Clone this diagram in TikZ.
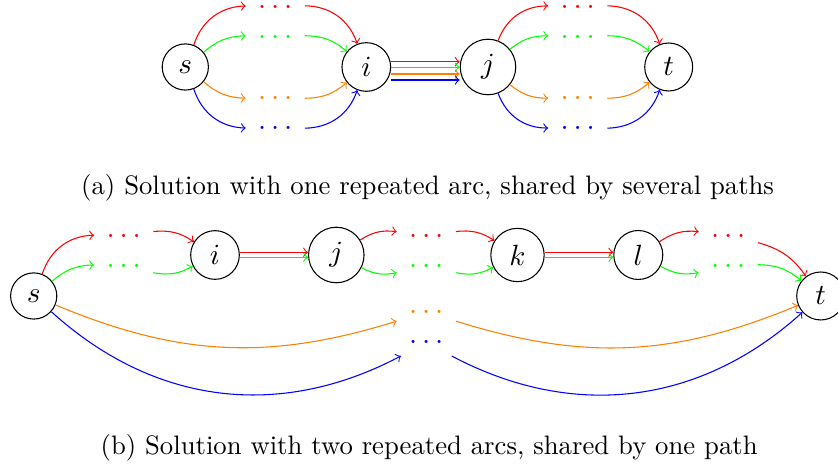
\documentclass[tikz,border=0pt]{standalone}
\usetikzlibrary{calc}
\tikzset{
  vtx/.style={circle, draw, inner sep=3.65pt, font=\fontsize{10.95}{13.6}\selectfont},
  dotsnode/.style={rectangle, inner sep=0pt, outer sep=0pt, minimum width=22.17pt, minimum height=10.26pt, font=\fontsize{10.95}{13.6}\selectfont},
  dotsflat/.style={dotsnode, minimum height=0pt},
  capnode/.style={anchor=west, inner sep=0pt},
  arr/.style={->},
}
\begin{document}
\begin{tikzpicture}[x=0.3745pt,y=0.3745pt]
\useasboundingbox (0,0) rectangle (838,472);
% ---------- (a) ----------
\node[vtx] (sA) at (185.3,405) {$s$};
\node[vtx] (iA) at (366.3,405) {$i$};
\node[vtx] (jA) at (488,405) {$j$};
\node[vtx] (tA) at (668.7,405) {$t$};
\node[dotsflat,text=red]    (rA1) at (275.3,465.5) {$\ldots$};
\node[dotsflat,text=green]  (gA1) at (275.3,435.5) {$\ldots$};
\node[dotsflat,text=orange] (oA1) at (275.3,374.5) {$\ldots$};
\node[dotsflat,text=blue]   (bA1) at (275.3,344.5) {$\ldots$};
\node[dotsflat,text=red]    (rA2) at (577.8,465.5) {$\ldots$};
\node[dotsflat,text=green]  (gA2) at (577.8,435.5) {$\ldots$};
\node[dotsflat,text=orange] (oA2) at (577.8,374.5) {$\ldots$};
\node[dotsflat,text=blue]   (bA2) at (577.8,344.5) {$\ldots$};
\draw[arr,red]    (sA) to[bend left=35]  (rA1);
\draw[arr,green]  (sA) to[bend left=20]  (gA1);
\draw[arr,orange] (sA) to[bend right=20] (oA1);
\draw[arr,blue]   (sA) to[bend right=35] (bA1);
\draw[arr,red]    (rA1) to[bend left=35]  (iA);
\draw[arr,green]  (gA1) to[bend left=20]  (iA);
\draw[arr,orange] (oA1) to[bend right=20] (iA);
\draw[arr,blue]   (bA1) to[bend right=35] (iA);
\draw[arr,red]    ($(iA.east)+(0,5.3)$)  -- ($(jA.west)+(0,5.3)$);
\draw[arr,green]  ($(iA.east)+(0,-0.3)$) -- ($(jA.west)+(0,-0.3)$);
\draw[arr,orange] ($(iA.east)+(0,-7)$)   -- ($(jA.west)+(0,-7)$);
\draw[arr,blue]   ($(iA.east)+(0,-13)$)  -- ($(jA.west)+(0,-13)$);
\draw[arr,red]    (jA) to[bend left=35]  (rA2);
\draw[arr,green]  (jA) to[bend left=20]  (gA2);
\draw[arr,orange] (jA) to[bend right=20] (oA2);
\draw[arr,blue]   (jA) to[bend right=35] (bA2);
\draw[arr,red]    (rA2) to[bend left=35]  (tA);
\draw[arr,green]  (gA2) to[bend left=20]  (tA);
\draw[arr,orange] (oA2) to[bend right=20] (tA);
\draw[arr,blue]   (bA2) to[bend right=35] (tA);
\node[capnode] (capA) at (80.7,284.5) {(a) Solution with one repeated arc, shared by several paths};
% ---------- (b) ----------
\node[vtx] (sB) at (33.7,176) {$s$};
\node[vtx] (iB) at (215,217) {$i$};
\node[vtx] (jB) at (336.3,217) {$j$};
\node[vtx] (kB) at (517.5,217) {$k$};
\node[vtx] (lB) at (638.3,217) {$l$};
\node[vtx] (tB) at (820.7,176) {$t$};
\node[dotsnode,text=red]    (rB1) at (123.7,236.2) {$\ldots$};
\node[dotsnode,text=green]  (gB1) at (123.7,206.3) {$\ldots$};
\node[dotsnode,text=red]    (rB2) at (426.3,236.2) {$\ldots$};
\node[dotsnode,text=green]  (gB2) at (426.3,206.3) {$\ldots$};
\node[dotsnode,text=orange] (oB2) at (426.3,160.3) {$\ldots$};
\node[dotsnode,text=blue]   (bB2) at (426.3,129.7) {$\ldots$};
\node[dotsnode,text=red]    (rB3) at (728.3,236.2) {$\ldots$};
\node[dotsnode,text=green]  (gB3) at (728.3,206.3) {$\ldots$};
\draw[arr,red]    (sB) to[bend left=35] (rB1);
\draw[arr,green]  (sB) to[bend left=20] (gB1);
\draw[arr,red]    (rB1) to[bend left=20]  (iB);
\draw[arr,green]  (gB1) to[bend right=20] (iB);
\draw[arr,red]    ($(iB.east)+(0,2.7)$)  -- ($(jB.west)+(0,2.7)$);
\draw[arr,green]  ($(iB.east)+(0,-2.3)$) -- ($(jB.west)+(0,-2.3)$);
\draw[arr,red]    (jB) to[bend left=20]  (rB2);
\draw[arr,green]  (jB) to[bend right=20] (gB2);
\draw[arr,red]    (rB2) to[bend left=20]  (kB);
\draw[arr,green]  (gB2) to[bend right=20] (kB);
\draw[arr,red]    ($(kB.east)+(0,2.7)$)  -- ($(lB.west)+(0,2.7)$);
\draw[arr,green]  ($(kB.east)+(0,-2.3)$) -- ($(lB.west)+(0,-2.3)$);
\draw[arr,red]    (lB) to[bend left=20]  (rB3);
\draw[arr,green]  (lB) to[bend right=20] (gB3);
\draw[arr,red]    (rB3) to[bend left=20] (tB);
\draw[arr,green]  (gB3) to[bend left=20] (tB);
\draw[arr,orange] (sB) to[bend right=20] (oB2);
\draw[arr,blue]   (sB) to[bend right=35] (bB2);
\draw[arr,orange] (oB2) to[bend right=20] (tB);
\draw[arr,blue]   (bB2) to[bend right=35] (tB);
\node[capnode] (capB) at (100.1,24.5) {(b) Solution with two repeated arcs, shared by one path};
\end{tikzpicture}
\end{document}
